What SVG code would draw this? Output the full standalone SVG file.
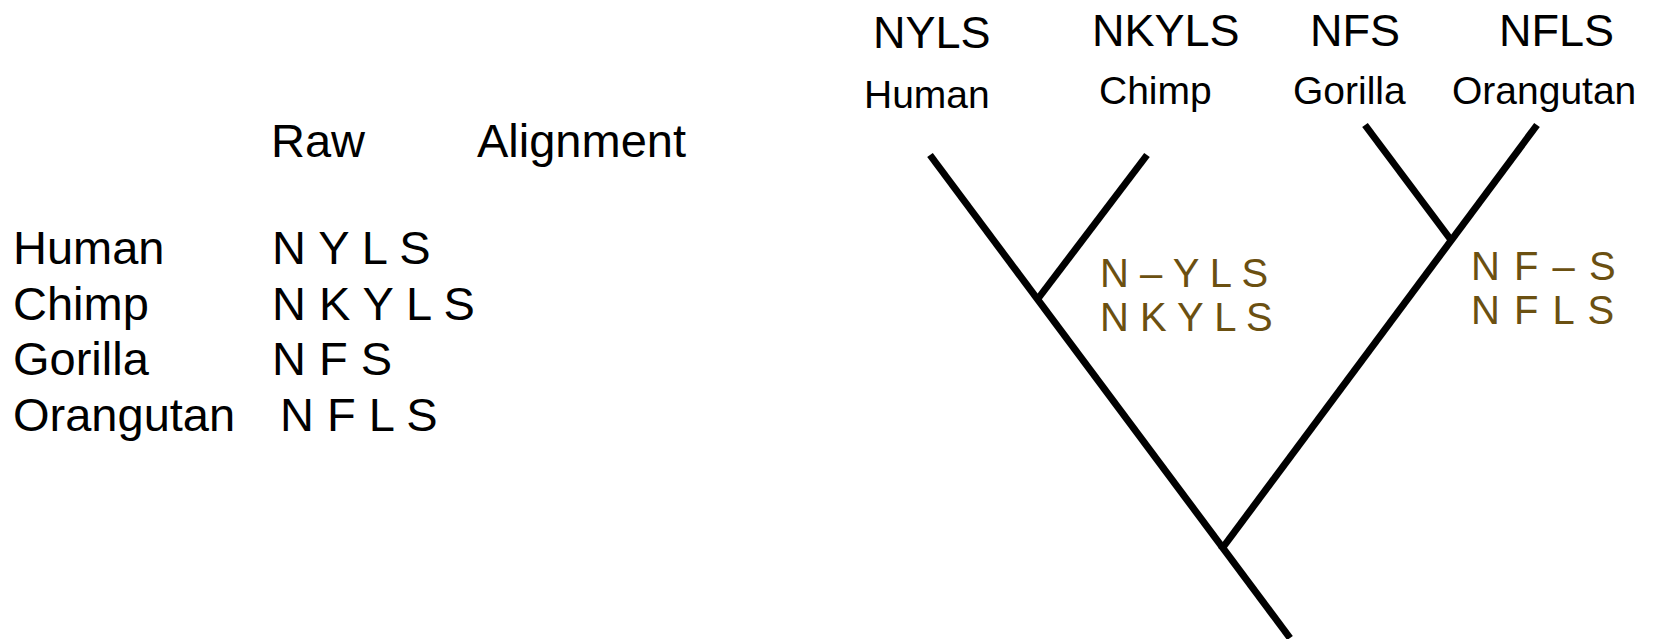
<svg xmlns="http://www.w3.org/2000/svg" width="1657" height="639" viewBox="0 0 1657 639">
<style>
text{font-family:"Liberation Sans",Arial,sans-serif;fill:#000}
.tbl{font-size:47px}
.seq{font-size:45px}
.sp{font-size:39px}
.aln{font-size:40px;fill:#6B5011}
.wide{letter-spacing:1.5px}
.br{stroke:#000;stroke-width:7;fill:none;stroke-linecap:butt}
</style>
<rect width="1657" height="639" fill="#fff"/>
<g id="table">
<text class="tbl" x="271" y="157">Raw</text>
<text class="tbl" x="477" y="157">Alignment</text>
<text class="tbl" x="13" y="264">Human</text>
<text class="tbl" x="13" y="320">Chimp</text>
<text class="tbl" x="13" y="375">Gorilla</text>
<text class="tbl" x="13" y="431">Orangutan</text>
<text class="tbl" x="272" y="264">N Y L S</text>
<text class="tbl" x="272" y="320">N K Y L S</text>
<text class="tbl" x="272" y="375">N F S</text>
<text class="tbl" x="280" y="431">N F L S</text>
</g>
<g id="connectors">
<line class="br" x1="930" y1="155" x2="1290" y2="638"/>
<line class="br" x1="1147" y1="155" x2="1037" y2="300"/>
<line class="br" x1="1365" y1="125" x2="1451" y2="240"/>
<line class="br" x1="1537" y1="125" x2="1221" y2="550"/>
</g>
<g id="human">
<text class="seq" x="873" y="48">NYLS</text>
<text class="sp" x="864" y="108">Human</text>
</g>
<g id="chimp">
<text class="seq" x="1092" y="46">NKYLS</text>
<text class="sp" x="1099" y="104">Chimp</text>
</g>
<g id="gorilla">
<text class="seq" x="1310" y="46">NFS</text>
<text class="sp" x="1293" y="104">Gorilla</text>
</g>
<g id="orangutan">
<text class="seq" x="1499" y="46">NFLS</text>
<text class="sp" x="1452" y="104">Orangutan</text>
</g>
<g id="aln-hc">
<text class="aln" x="1100" y="287">N – Y L S</text>
<text class="aln" x="1100" y="331">N K Y L S</text>
</g>
<g id="aln-go">
<text class="aln wide" x="1471" y="280">N F – S</text>
<text class="aln wide" x="1471" y="324">N F L S</text>
</g>
</svg>
